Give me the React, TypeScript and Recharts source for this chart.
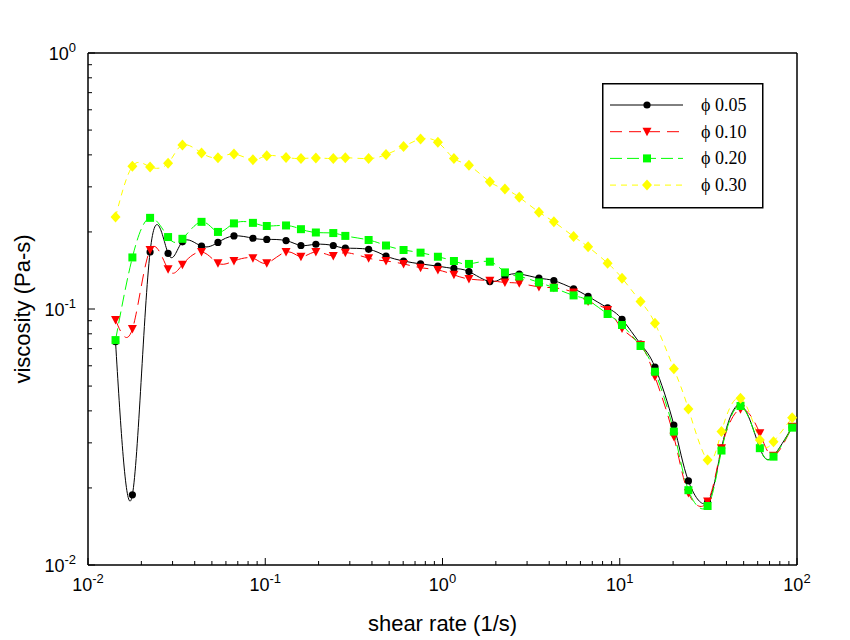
import { LineChart, Line, XAxis, YAxis, Legend, ReferenceLine } from "recharts";

// shear rate (1/s), shared by all four runs
const shearRate = [
  0.0143, 0.0178, 0.0224, 0.0283, 0.0341, 0.0437, 0.0541, 0.0666, 0.0852, 0.102,
  0.131, 0.159, 0.193, 0.242, 0.283, 0.383, 0.48, 0.603, 0.752, 0.942,
  1.16, 1.41, 1.85, 2.25, 2.71, 3.5, 4.25, 5.49, 6.63, 8.54,
  10.3, 13.1, 15.8, 20.2, 24.4, 31.3, 37.5, 48.0, 61.7, 73.7, 93.9,
];

// viscosity (Pa-s)
const phi005 = [
  0.0745, 0.0188, 0.167, 0.165, 0.183, 0.176, 0.182, 0.193, 0.189, 0.187,
  0.185, 0.177, 0.179, 0.177, 0.173, 0.171, 0.161, 0.154, 0.15, 0.147,
  0.144, 0.14, 0.128, 0.134, 0.137, 0.132, 0.129, 0.12, 0.112, 0.101,
  0.0912, 0.073, 0.0593, 0.0352, 0.0213, 0.0176, 0.0286, 0.0422, 0.0286, 0.0267, 0.0346,
];
const phi010 = [
  0.0906, 0.0835, 0.17, 0.143, 0.149, 0.167, 0.151, 0.154, 0.158, 0.151,
  0.167, 0.16, 0.167, 0.161, 0.166, 0.158, 0.154, 0.15, 0.145, 0.142,
  0.136, 0.131, 0.129, 0.127, 0.126, 0.122, 0.121, 0.116, 0.107, 0.0991,
  0.0839, 0.0724, 0.0544, 0.0317, 0.0191, 0.0177, 0.0286, 0.0406, 0.0327, 0.0267, 0.0347,
];
const phi020 = [
  0.0756, 0.159, 0.227, 0.191, 0.188, 0.219, 0.2, 0.216, 0.217, 0.211,
  0.212, 0.205, 0.199, 0.198, 0.193, 0.186, 0.177, 0.17, 0.166, 0.16,
  0.154, 0.15, 0.153, 0.139, 0.134, 0.127, 0.121, 0.113, 0.108, 0.0956,
  0.0866, 0.0717, 0.0569, 0.0332, 0.0196, 0.017, 0.028, 0.0418, 0.0286, 0.0265, 0.0344,
];
const phi030 = [
  0.229, 0.361, 0.359, 0.371, 0.437, 0.407, 0.39, 0.403, 0.383, 0.397,
  0.391, 0.387, 0.389, 0.387, 0.39, 0.387, 0.401, 0.431, 0.461, 0.448,
  0.387, 0.364, 0.314, 0.294, 0.273, 0.239, 0.219, 0.192, 0.175, 0.151,
  0.132, 0.107, 0.0879, 0.0584, 0.0407, 0.0257, 0.0332, 0.0448, 0.0308, 0.0303, 0.0376,
];

const seriesNames = ["ϕ 0.05", "ϕ 0.10", "ϕ 0.20", "ϕ 0.30"];

const xTicks = [
  0.01, 0.02, 0.03, 0.04, 0.05, 0.06, 0.07, 0.08, 0.09,
  0.1, 0.2, 0.3, 0.4, 0.5, 0.6, 0.7, 0.8, 0.9,
  1, 2, 3, 4, 5, 6, 7, 8, 9,
  10, 20, 30, 40, 50, 60, 70, 80, 90, 100,
];
const yTicks = [
  0.01, 0.02, 0.03, 0.04, 0.05, 0.06, 0.07, 0.08, 0.09,
  0.1, 0.2, 0.3, 0.4, 0.5, 0.6, 0.7, 0.8, 0.9, 1,
];

const data = shearRate.map((x, i) => ({
  x,
  p005: phi005[i],
  p010: phi010[i],
  p020: phi020[i],
  p030: phi030[i],
}));

const series = [
  { key: "p005", color: "#000000", dash: undefined, shape: "circle" },
  { key: "p010", color: "#ff0000", dash: "12 7", shape: "triangle" },
  { key: "p020", color: "#00ff00", dash: "12 5", shape: "square" },
  { key: "p030", color: "#ffff00", dash: "6 5", shape: "diamond" },
];

const SANS = "'Liberation Sans', Arial, sans-serif";
const SERIF = "'Liberation Serif', 'Times New Roman', serif";

function isMajor(v: number) {
  const l = Math.log10(v);
  return Math.abs(l - Math.round(l)) < 1e-6;
}

function Marker({ shape, cx, cy, color }: any) {
  if (cx == null || cy == null) return null;
  switch (shape) {
    case "circle":
      return <circle cx={cx} cy={cy} r={3.6} fill={color} />;
    case "triangle":
      return (
        <polygon
          points={`${cx - 4.5},${cy - 4} ${cx + 4.5},${cy - 4} ${cx},${cy + 4.5}`}
          fill={color}
        />
      );
    case "square":
      return <rect x={cx - 4} y={cy - 4} width={8} height={8} fill={color} />;
    default:
      return (
        <polygon
          points={`${cx},${cy - 5.5} ${cx + 5},${cy} ${cx},${cy + 5.5} ${cx - 5},${cy}`}
          fill={color}
        />
      );
  }
}

function XTick({ x, y, payload }: any) {
  const v = payload.value;
  const major = isMajor(v);
  return (
    <g>
      <line x1={x} x2={x} y1={y} y2={y - (major ? 7 : 4)} stroke="#000" />
      {major && (
        <text x={x} y={y + 26} textAnchor="middle" fontFamily={SANS} fontSize={18} fill="#000">
          10
          <tspan dy={-8} fontSize={13}>
            {Math.round(Math.log10(v))}
          </tspan>
        </text>
      )}
    </g>
  );
}

function YTick({ x, y, payload }: any) {
  const v = payload.value;
  const major = isMajor(v);
  return (
    <g>
      <line x1={x} x2={x + (major ? 7 : 4)} y1={y} y2={y} stroke="#000" />
      {major && (
        <text x={x - 12} y={y + 7} textAnchor="end" fontFamily={SANS} fontSize={18} fill="#000">
          10
          <tspan dy={-8} fontSize={13}>
            {Math.round(Math.log10(v))}
          </tspan>
        </text>
      )}
    </g>
  );
}

function LegendBox() {
  return (
    <svg width={162} height={126} style={{ display: "block" }}>
      <rect x={0.75} y={0.75} width={160} height={124} fill="#fff" stroke="#000" strokeWidth={1.5} />
      {series.map((s, i) => {
        const ry = 22 + i * 26.7;
        return (
          <g key={s.key}>
            <line x1={8} x2={81} y1={ry} y2={ry} stroke={s.color} strokeDasharray={s.dash} />
            <Marker shape={s.shape} cx={45} cy={ry} color={s.color} />
            <text x={99} y={ry + 6} fontFamily={SERIF} fontSize={18} fill="#000">
              {seriesNames[i]}
            </text>
          </g>
        );
      })}
    </svg>
  );
}

export default function App() {
  return (
    <div style={{ width: 842, height: 632 }}>
      <LineChart
        width={842}
        height={632}
        data={data}
        margin={{ top: 45, right: 53, bottom: 5, left: 0 }}
      >
        <XAxis
          dataKey="x"
          type="number"
          scale="log"
          domain={[0.01, 100]}
          ticks={xTicks}
          interval={0}
          tick={<XTick />}
          tickLine={false}
          tickSize={0}
          tickMargin={0}
          height={70}
          axisLine={{ stroke: "#000", strokeWidth: 1.5 }}
          label={{
            content: ({ viewBox }: any) => (
              <text
                x={viewBox.x + viewBox.width / 2}
                y={viewBox.y + 66}
                textAnchor="middle"
                fontFamily={SANS}
                fontSize={22}
                fill="#000"
              >
                shear rate (1/s)
              </text>
            ),
          }}
        />
        <YAxis
          type="number"
          scale="log"
          domain={[0.01, 1]}
          ticks={yTicks}
          interval={0}
          tick={<YTick />}
          tickLine={false}
          tickSize={0}
          tickMargin={0}
          width={80}
          axisLine={{ stroke: "#000", strokeWidth: 1.5 }}
          label={{
            content: ({ viewBox }: any) => {
              const cx = viewBox.x + 14;
              const cy = viewBox.y + viewBox.height / 2;
              return (
                <text
                  x={cx}
                  y={cy}
                  dy={8}
                  transform={`rotate(-90, ${cx}, ${cy})`}
                  textAnchor="middle"
                  fontFamily={SANS}
                  fontSize={22}
                  fill="#000"
                >
                  viscosity (Pa-s)
                </text>
              );
            },
          }}
        />
        <ReferenceLine x={100} stroke="#000" strokeWidth={1.5} />
        <ReferenceLine y={1} stroke="#000" strokeWidth={1.5} />
        {series.map((s) => (
          <Line
            key={s.key}
            dataKey={s.key}
            type="natural"
            stroke={s.color}
            strokeWidth={1}
            strokeDasharray={s.dash}
            dot={(p: any) => (
              <Marker key={`${s.key}-${p.index}`} shape={s.shape} cx={p.cx} cy={p.cy} color={s.color} />
            )}
            activeDot={false}
            isAnimationActive={false}
          />
        ))}
        <Legend
          layout="vertical"
          align="center"
          verticalAlign="middle"
          wrapperStyle={{ left: 594, top: 75, width: 162, height: 126 }}
          content={() => <LegendBox />}
        />
      </LineChart>
    </div>
  );
}
